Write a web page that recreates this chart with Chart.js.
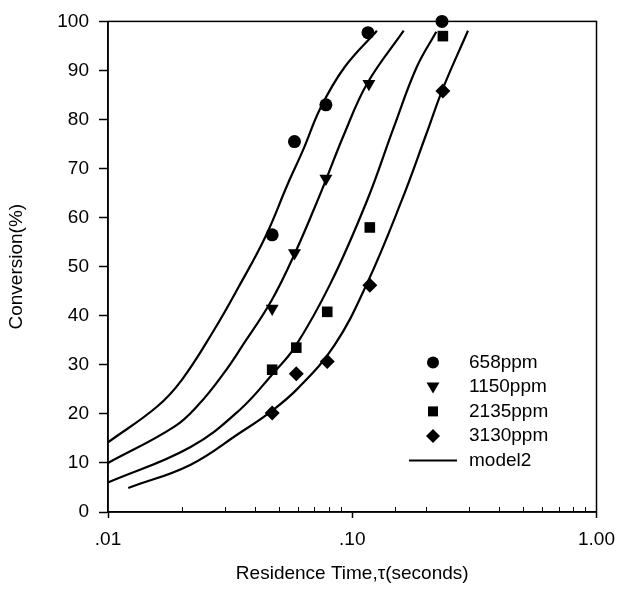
<!DOCTYPE html>
<html>
<head>
<meta charset="utf-8">
<script src="https://cdn.jsdelivr.net/npm/chart.js@4.4.1/dist/chart.umd.min.js"></script>
<style>
  html, body { margin: 0; padding: 0; background: #fff; }
</style>
</head>
<body>
<canvas id="convChart" width="625" height="595"></canvas>
<script>
// measured points (residence time in s, conversion in %)
const seriesNames = ['658ppm', '1150ppm', '2135ppm', '3130ppm'];
const modelName = 'model2';

const tau658 = [0.047, 0.058, 0.078, 0.116, 0.233];
const conv658 = [56.5, 75.5, 83.0, 97.7, 100.0];
const tau1150 = [0.047, 0.058, 0.078, 0.117];
const conv1150 = [41.5, 52.8, 68.0, 87.3];
const tau2135 = [0.047, 0.059, 0.079, 0.118, 0.235];
const conv2135 = [29.0, 33.5, 40.8, 58.0, 97.0];
const tau3130 = [0.047, 0.059, 0.079, 0.118, 0.235];
const conv3130 = [20.2, 28.2, 30.7, 46.2, 85.8];

// model2 curves
const modelTau1 = [0.0100, 0.0159, 0.0201, 0.0271, 0.0342, 0.0440, 0.0546, 0.0628, 0.0742, 0.0928, 0.1262];
const modelConv1 = [14.2, 21.5, 27.0, 37.0, 45.8, 56.0, 67.0, 73.7, 82.4, 90.6, 98.1];
const modelTau2 = [0.0100, 0.0187, 0.0236, 0.0298, 0.0352, 0.0466, 0.0582, 0.0735, 0.0928, 0.1150, 0.1624];
const modelConv2 = [10.0, 17.4, 22.0, 28.3, 33.6, 43.0, 52.7, 64.5, 77.1, 87.3, 98.1];
const modelTau3 = [0.0100, 0.0217, 0.0346, 0.0475, 0.0582, 0.0815, 0.1150, 0.1479, 0.1833, 0.2208];
const modelConv3 = [6.0, 13.2, 20.8, 28.3, 33.6, 46.6, 63.5, 78.4, 90.6, 97.9];
const modelTau4 = [0.0121, 0.0217, 0.0346, 0.0457, 0.0599, 0.0846, 0.1150, 0.1594, 0.2012, 0.2358, 0.2977];
const modelConv4 = [4.9, 9.6, 16.1, 20.2, 25.2, 34.0, 46.6, 63.5, 77.1, 86.5, 98.1];

const xTickValues = [0.01, 0.1, 1];
const xTickLabels = ['.01', '.10', '1.00'];

const FONT = 'Liberation Sans, Arial, sans-serif';
const pts = (xs, ys) => xs.map((x, i) => ({ x: x, y: ys[i] }));
const isMajor = v => xTickValues.some(m => Math.abs(m - v) < m * 1e-6);

const markerStyles = [
  { style: 'circle', radius: 6.5, rotation: 0 },
  { style: 'triangle', radius: 7.5, rotation: 180 },
  { style: 'rect', radius: 7.5, rotation: 0 },
  { style: 'rectRot', radius: 7.5, rotation: 0 },
];

const measured = [[tau658, conv658], [tau1150, conv1150], [tau2135, conv2135], [tau3130, conv3130]];
const models = [[modelTau1, modelConv1], [modelTau2, modelConv2], [modelTau3, modelConv3], [modelTau4, modelConv4]];

const datasets = [];
models.forEach(([xs, ys]) => {
  datasets.push({
    type: 'line',
    label: modelName,
    data: pts(xs, ys),
    borderColor: '#000',
    borderWidth: 2.2,
    pointRadius: 0,
    tension: 0.4,
    fill: false,
    clip: false,
  });
});
measured.forEach(([xs, ys], i) => {
  datasets.push({
    type: 'scatter',
    label: seriesNames[i],
    data: pts(xs, ys),
    pointStyle: markerStyles[i].style,
    pointRadius: markerStyles[i].radius,
    pointRotation: markerStyles[i].rotation,
    backgroundColor: '#000',
    borderColor: '#000',
    borderWidth: 0,
    clip: false,
  });
});

// box round the plot area + small inward minor ticks on the log axis
const framePlugin = {
  id: 'frame',
  afterDraw(chart) {
    const { ctx, chartArea: a } = chart;
    const xs = chart.scales.x;
    ctx.save();
    ctx.strokeStyle = '#000';
    ctx.lineWidth = 1.5;
    ctx.strokeRect(a.left, a.top, a.width, a.height);
    ctx.lineWidth = 1;
    ctx.beginPath();
    xs.ticks.forEach(t => {
      if (isMajor(t.value)) return;
      const px = Math.round(xs.getPixelForValue(t.value)) + 0.5;
      ctx.moveTo(px, a.bottom);
      ctx.lineTo(px, a.bottom - 5);
    });
    ctx.stroke();
    ctx.restore();
  }
};

// legend inside the plot, lower right
const legendPlugin = {
  id: 'boxLegend',
  afterDraw(chart) {
    const { ctx, chartArea: a } = chart;
    const mx = a.left + 325, tx = a.left + 361;
    const y0 = a.top + 341, gap = 24.5;
    ctx.save();
    ctx.fillStyle = '#000';
    ctx.strokeStyle = '#000';
    ctx.font = '19px ' + FONT;
    ctx.textBaseline = 'middle';
    seriesNames.forEach((name, i) => {
      const y = y0 + i * gap;
      ctx.beginPath();
      if (i === 0) {
        ctx.arc(mx, y, 6, 0, Math.PI * 2);
      } else if (i === 1) {
        ctx.moveTo(mx - 6.5, y - 4.5); ctx.lineTo(mx + 6.5, y - 4.5); ctx.lineTo(mx, y + 6.5);
      } else if (i === 2) {
        ctx.rect(mx - 5, y - 5, 10, 10);
      } else {
        ctx.moveTo(mx, y - 7); ctx.lineTo(mx + 7, y); ctx.lineTo(mx, y + 7); ctx.lineTo(mx - 7, y);
      }
      ctx.closePath();
      ctx.fill();
      ctx.fillText(name, tx, y);
    });
    const ly = y0 + 4 * gap;
    ctx.lineWidth = 2;
    ctx.beginPath();
    ctx.moveTo(a.left + 301, ly);
    ctx.lineTo(a.left + 349, ly);
    ctx.stroke();
    ctx.fillText(modelName, tx, ly);
    ctx.restore();
  }
};

new Chart(document.getElementById('convChart').getContext('2d'), {
  data: { datasets: datasets },
  options: {
    responsive: false,
    animation: false,
    layout: { padding: { top: 21, right: 24, left: 0, bottom: 0 } },
    plugins: {
      legend: { display: false },
      tooltip: { enabled: false },
    },
    scales: {
      x: {
        type: 'logarithmic',
        min: 0.01,
        max: 1,
        afterFit(scale) { scale.height = 83; },
        border: { color: '#000', width: 1.5 },
        grid: {
          drawOnChartArea: false,
          drawTicks: true,
          tickLength: 6,
          tickWidth: 1.5,
          tickColor: c => (c.tick && isMajor(c.tick.value)) ? '#000' : 'rgba(0,0,0,0)',
        },
        ticks: {
          autoSkip: false,
          maxRotation: 0,
          padding: 10,
          color: '#000',
          font: { family: FONT, size: 19 },
          callback(value) {
            const k = xTickValues.findIndex(v => Math.abs(v - value) < v * 1e-6);
            return k >= 0 ? xTickLabels[k] : '';
          },
        },
        title: {
          display: true,
          text: 'Residence Time,\u03c4(seconds)',
          color: '#000',
          font: { family: FONT, size: 19 },
          padding: { top: 0, bottom: 10 },
        },
      },
      y: {
        min: 0,
        max: 100,
        afterFit(scale) { scale.width = 108; },
        border: { color: '#000', width: 1.5 },
        grid: { drawOnChartArea: false, drawTicks: true, tickLength: 9, tickWidth: 1.5, color: '#000' },
        ticks: {
          stepSize: 10,
          padding: 10,
          color: '#000',
          font: { family: FONT, size: 19 },
        },
        title: {
          display: true,
          text: 'Conversion(%)',
          color: '#000',
          font: { family: FONT, size: 19 },
          padding: { top: 5, bottom: 0 },
        },
      },
    },
  },
  plugins: [framePlugin, legendPlugin],
});
</script>
</body>
</html>
